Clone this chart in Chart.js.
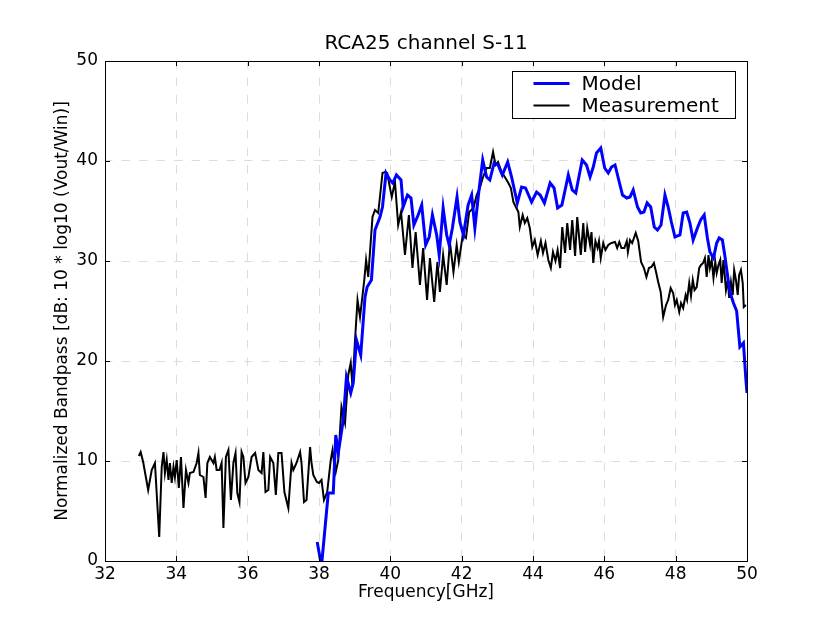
<!DOCTYPE html>
<html>
<head>
<meta charset="utf-8">
<script src="https://cdn.jsdelivr.net/npm/chart.js@4.4.0/dist/chart.umd.min.js"></script>
<style>
  html, body { margin: 0; padding: 0; background: #fff; }
  #wrap { width: 830px; height: 623px; }
</style>
</head>
<body>
<div id="wrap"><canvas id="chart" width="830" height="623"></canvas></div>
<script>
// values
const modelFreq = [37.95, 38.07, 38.26, 38.40, 38.47, 38.54, 38.68, 38.77, 38.89, 38.96, 39.05, 39.17, 39.29, 39.35, 39.47, 39.57, 39.71, 39.78, 39.88, 39.99,
  40.07, 40.17, 40.30, 40.36, 40.48, 40.58, 40.66, 40.78, 40.88, 40.99, 41.09, 41.18, 41.30, 41.37, 41.48, 41.58, 41.65, 41.74, 41.87, 41.95,
  42.05, 42.18, 42.28, 42.37, 42.47, 42.59, 42.70, 42.79, 42.91, 43.02, 43.14, 43.29, 43.40, 43.56, 43.68, 43.79, 43.96, 44.10, 44.20, 44.32,
  44.48, 44.59, 44.69, 44.81, 44.99, 45.10, 45.20, 45.27, 45.38, 45.50, 45.60, 45.69, 45.78, 45.90, 46.01, 46.11, 46.20, 46.30, 46.39, 46.51,
  46.63, 46.72, 46.81, 46.93, 47.02, 47.11, 47.20, 47.30, 47.40, 47.49, 47.59, 47.70, 47.79, 47.88, 47.98, 48.12, 48.21, 48.31, 48.40, 48.49,
  48.61, 48.70, 48.80, 48.89, 48.96, 49.06, 49.15, 49.22, 49.31, 49.38, 49.46, 49.52, 49.62, 49.71, 49.80, 49.90, 49.97, 50.00];
const modelVal = [1.9, -0.5, 6.8, 6.8, 12.6, 10.8, 14.1, 18.4, 16.8, 17.8, 22.1, 20.6, 26.4, 27.4, 28.1, 33.1, 34.4, 35.4, 38.8, 38.1,
  37.8, 38.6, 38.1, 35.4, 36.6, 36.3, 33.6, 34.6, 35.6, 31.6, 32.4, 34.6, 32.6, 30.6, 35.3, 32.6, 31.6, 33.3, 36.4, 33.9,
  32.6, 35.6, 36.6, 33.3, 36.6, 40.1, 38.4, 38.1, 39.8, 39.6, 38.6, 39.9, 38.4, 35.8, 37.4, 37.3, 35.9, 36.9, 36.6, 35.8,
  37.8, 37.3, 35.3, 35.6, 38.6, 37.1, 36.8, 38.1, 40.1, 39.6, 38.4, 39.4, 40.8, 41.3, 39.3, 38.8, 39.4, 39.6, 38.3, 36.6,
  36.3, 36.4, 37.1, 35.4, 34.8, 34.9, 35.8, 35.4, 33.4, 33.1, 33.6, 36.6, 35.4, 33.9, 32.4, 32.6, 34.8, 34.9, 33.8, 32.1,
  33.3, 34.1, 34.6, 32.3, 30.9, 30.3, 31.8, 32.3, 32.1, 30.5, 28.4, 26.9, 25.8, 25.0, 21.4, 21.8, 18.1, 16.8];

const measFreq = [32.95, 33.00, 33.07, 33.21, 33.31, 33.40, 33.52, 33.59, 33.64, 33.68, 33.73, 33.78, 33.82, 33.87, 33.92, 33.96, 34.01, 34.07, 34.13, 34.20,
  34.27, 34.34, 34.38, 34.48, 34.57, 34.62, 34.66, 34.76, 34.82, 34.87, 34.94, 35.04, 35.08, 35.13, 35.21, 35.27, 35.32, 35.39, 35.46, 35.53,
  35.60, 35.66, 35.71, 35.77, 35.83, 35.88, 35.94, 36.02, 36.11, 36.21, 36.30, 36.39, 36.44, 36.50, 36.58, 36.63, 36.72, 36.79, 36.86, 36.95,
  37.03, 37.14, 37.23, 37.28, 37.37, 37.47, 37.51, 37.58, 37.65, 37.75, 37.79, 37.84, 37.94, 38.00, 38.07, 38.14, 38.23, 38.33, 38.38, 38.42,
  38.47, 38.54, 38.63, 38.73, 38.82, 38.89, 38.94, 39.01, 39.08, 39.15, 39.27, 39.32, 39.38, 39.50, 39.57, 39.66, 39.73, 39.78, 39.85, 39.91,
  40.04, 40.13, 40.22, 40.30, 40.41, 40.52, 40.62, 40.71, 40.83, 40.92, 41.03, 41.11, 41.23, 41.32, 41.39, 41.48, 41.58, 41.67, 41.77, 41.86,
  41.92, 42.03, 42.12, 42.21, 42.33, 42.42, 42.51, 42.59, 42.70, 42.79, 42.88, 42.95, 43.02, 43.12, 43.21, 43.31, 43.38, 43.45, 43.52, 43.59,
  43.63, 43.71, 43.77, 43.84, 43.91, 43.98, 44.05, 44.13, 44.22, 44.28, 44.35, 44.43, 44.50, 44.56, 44.63, 44.69, 44.76, 44.82, 44.90, 44.96,
  45.04, 45.10, 45.18, 45.24, 45.34, 45.41, 45.46, 45.52, 45.60, 45.64, 45.69, 45.75, 45.81, 45.85, 45.90, 45.97, 46.03, 46.11, 46.20, 46.30,
  46.36, 46.42, 46.48, 46.56, 46.63, 46.66, 46.72, 46.78, 46.83, 46.88, 46.95, 47.03, 47.11, 47.18, 47.25, 47.32, 47.39, 47.45, 47.51, 47.58,
  47.65, 47.73, 47.79, 47.86, 47.93, 47.98, 48.03, 48.10, 48.15, 48.21, 48.28, 48.32, 48.38, 48.43, 48.48, 48.53, 48.59, 48.66, 48.71, 48.77,
  48.82, 48.87, 48.92, 48.96, 49.01, 49.06, 49.11, 49.15, 49.20, 49.25, 49.29, 49.34, 49.41, 49.46, 49.50, 49.55, 49.60, 49.64, 49.69, 49.74,
  49.78, 49.83, 49.88, 49.91, 49.97];
const measVal = [10.5, 10.9, 9.9, 7.1, 9.1, 9.8, 2.4, 9.4, 10.9, 8.8, 10.1, 8.1, 9.8, 7.8, 9.4, 8.4, 10.1, 7.3, 10.4, 5.3,
  9.1, 7.8, 8.8, 8.9, 9.8, 10.8, 8.6, 8.4, 6.3, 9.8, 10.4, 9.8, 10.4, 9.1, 9.1, 9.8, 3.3, 10.4, 11.1, 6.1,
  9.8, 10.8, 6.8, 5.9, 10.9, 10.4, 7.8, 8.4, 10.4, 10.8, 9.1, 8.8, 10.9, 6.9, 7.1, 10.4, 9.8, 6.6, 10.8, 10.8,
  6.9, 5.3, 9.8, 9.1, 9.8, 10.9, 9.8, 5.9, 6.1, 11.4, 9.8, 8.6, 7.9, 7.8, 8.1, 6.1, 6.9, 10.1, 11.1, 9.9,
  8.9, 10.1, 15.4, 13.8, 18.6, 19.8, 17.4, 22.1, 26.1, 24.4, 28.1, 30.1, 28.4, 34.4, 35.1, 34.8, 37.1, 38.8, 38.9, 38.8,
  36.4, 37.9, 33.6, 34.9, 30.6, 34.6, 29.3, 32.9, 27.6, 31.3, 26.1, 30.3, 25.9, 29.9, 26.9, 30.6, 27.6, 31.9, 28.9, 31.6,
  29.9, 32.6, 32.3, 34.9, 35.3, 36.6, 37.3, 38.3, 39.3, 39.3, 40.9, 39.6, 39.9, 38.9, 38.4, 37.8, 37.3, 35.9, 35.4, 34.9,
  33.4, 34.6, 33.8, 34.3, 33.3, 31.4, 32.1, 30.6, 32.0, 30.8, 31.8, 30.1, 29.3, 30.9, 30.0, 31.1, 29.3, 33.4, 30.8, 33.8,
  31.1, 34.1, 30.5, 34.4, 30.6, 33.8, 30.9, 33.3, 31.6, 32.9, 29.8, 32.0, 31.3, 32.0, 30.3, 31.8, 31.1, 31.6, 31.8, 31.9,
  31.3, 31.9, 31.3, 31.3, 32.0, 30.9, 32.1, 31.8, 32.3, 32.8, 32.0, 29.9, 29.3, 28.4, 29.3, 29.4, 29.8, 28.9, 27.9, 26.9,
  24.4, 25.6, 26.1, 27.3, 26.8, 25.6, 26.1, 24.9, 25.8, 25.3, 26.6, 26.1, 27.8, 26.5, 28.1, 27.1, 27.4, 29.3, 29.6, 29.8,
  30.3, 28.4, 30.6, 29.3, 30.1, 28.3, 29.9, 28.8, 29.6, 30.1, 27.8, 30.1, 27.1, 28.1, 26.3, 27.9, 26.6, 29.1, 28.1, 26.6,
  28.6, 29.1, 27.8, 25.4, 25.6];

const xTicks = [32, 34, 36, 38, 40, 42, 44, 46, 48, 50];
const yTicks = [0, 10, 20, 30, 40, 50];

const font = "'DejaVu Sans', sans-serif";
const toPoints = (xs, ys) => xs.map((x, i) => ({ x: x, y: ys[i] }));

// frame, inward tick marks and boxed legend, drawn the matplotlib way
const framePlugin = {
  id: 'frame',
  afterDatasetsDraw(chart) {
    const { ctx, chartArea: a, scales: { x, y } } = chart;
    const tl = 5;
    ctx.save();
    ctx.strokeStyle = '#000';
    ctx.lineWidth = 1;
    ctx.beginPath();
    x.ticks.forEach(t => {
      const px = Math.round(x.getPixelForValue(t.value)) + 0.5;
      ctx.moveTo(px, a.bottom); ctx.lineTo(px, a.bottom - tl);
      ctx.moveTo(px, a.top); ctx.lineTo(px, a.top + tl);
    });
    y.ticks.forEach(t => {
      const py = Math.round(y.getPixelForValue(t.value)) + 0.5;
      ctx.moveTo(a.left, py); ctx.lineTo(a.left + tl, py);
      ctx.moveTo(a.right, py); ctx.lineTo(a.right - tl, py);
    });
    ctx.stroke();
    ctx.strokeRect(Math.round(a.left) + 0.5, Math.round(a.top) + 0.5, Math.round(a.right - a.left), Math.round(a.bottom - a.top));

    // legend box
    const bw = 223, bh = 47;
    const bx = Math.round(a.right) - 12 - bw + 0.5;
    const by = Math.round(a.top) + 10 + 0.5;
    ctx.fillStyle = '#fff';
    ctx.fillRect(bx, by, bw, bh);
    ctx.strokeRect(bx, by, bw, bh);
    ctx.font = '20px ' + font;
    ctx.textBaseline = 'middle';
    chart.data.datasets.forEach((ds, i) => {
      const ly = by + 12 + i * 22;
      ctx.strokeStyle = ds.borderColor;
      ctx.lineWidth = ds.borderWidth;
      ctx.beginPath();
      ctx.moveTo(bx + 21, ly); ctx.lineTo(bx + 57, ly);
      ctx.stroke();
      ctx.fillStyle = '#000';
      ctx.fillText(ds.label, bx + 69, ly + 1);
    });
    ctx.restore();
  }
};

new Chart(document.getElementById('chart'), {
  type: 'line',
  data: {
    datasets: [
      { label: 'Model', data: toPoints(modelFreq, modelVal), borderColor: '#0000ff', borderWidth: 3, pointRadius: 0, tension: 0, fill: false },
      { label: 'Measurement', data: toPoints(measFreq, measVal), borderColor: '#000000', borderWidth: 2, pointRadius: 0, tension: 0, fill: false }
    ]
  },
  options: {
    responsive: false,
    animation: false,
    layout: { padding: { left: 0, top: 0, right: 83, bottom: 0 } },
    plugins: {
      legend: { display: false },
      tooltip: { enabled: false },
      title: {
        display: true, fullSize: false, text: 'RCA25 channel S-11', color: '#000',
        font: { family: font, size: 20, weight: 'normal' },
        padding: { top: 32, bottom: 5 }
      }
    },
    scales: {
      x: {
        type: 'linear', min: 32, max: 50,
        afterBuildTicks: s => { s.ticks = xTicks.map(v => ({ value: v })); },
        afterFit: s => { s.height = 62; },
        grid: { color: '#dcdcdc', lineWidth: 1, drawTicks: false },
        border: { display: false, dash: [8.5, 9], dashOffset: 1 },
        ticks: { color: '#000', font: { family: font, size: 17 }, padding: 3, maxRotation: 0 },
        title: { display: true, text: 'Frequency[GHz]', color: '#000', font: { family: font, size: 17 }, padding: { top: 0, bottom: 20 } }
      },
      y: {
        type: 'linear', min: 0, max: 50,
        afterBuildTicks: s => { s.ticks = yTicks.map(v => ({ value: v })); },
        afterFit: s => { s.width = 105; },
        grid: { color: '#dcdcdc', lineWidth: 1, drawTicks: false },
        border: { display: false, dash: [8.5, 9], dashOffset: 1 },
        ticks: { color: '#000', font: { family: font, size: 17 }, padding: 7 },
        title: { display: true, text: 'Normalized Bandpass [dB: 10 * log10 (Vout/Win)]', color: '#000', font: { family: font, size: 17 }, padding: { top: 52, bottom: 0 } }
      }
    }
  },
  plugins: [framePlugin]
});
</script>
</body>
</html>
